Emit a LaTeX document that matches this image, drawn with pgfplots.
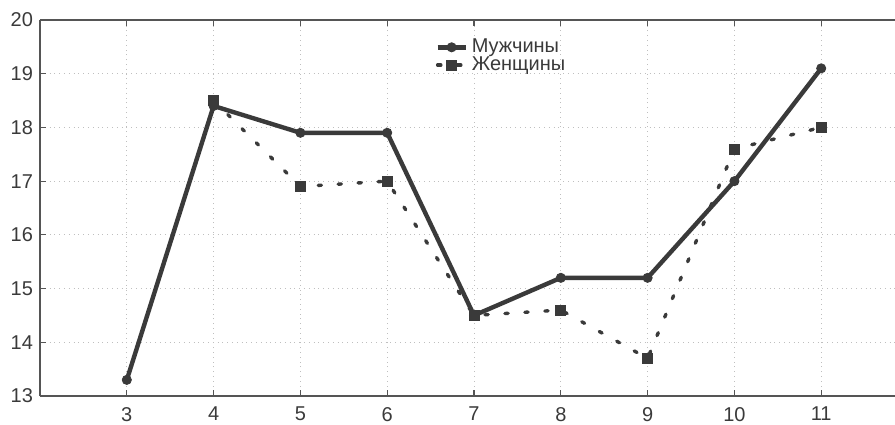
\documentclass[border=0pt]{standalone}
\usepackage{fontspec}
\setmainfont{Liberation Sans}
\usepackage{pgfplots}
\pgfplotsset{compat=1.18}
\definecolor{ink}{HTML}{3A3A3A}
\definecolor{frame}{HTML}{555555}

\begin{document}
\begin{tikzpicture}
  \begin{axis}[
    scale only axis,
    width=427.5pt, height=188pt,
    at={(0,0)}, anchor=south west,
    xmin=2, xmax=11.85,
    ymin=13, ymax=20,
    axis x line=box,
    axis y line*=left,
    axis line style={frame, line width=0.8pt},
    xtick={3,...,11},
    ytick={13,...,20},
    tick align=inside,
    tick style={frame, line width=0.6pt},
    major tick length=3pt,
    grid=major,
    major grid style={gray!50, dotted, line width=0.5pt},
    tick label style={font=\fontsize{10}{12}\selectfont, text=ink},
    xticklabel style={yshift=-2pt},
    /pgf/number format/assume math mode=true,
    legend style={at={(0.455,0.972)}, anchor=north west, draw=none, fill=none,
      font=\fontsize{10}{12}\selectfont, row sep=-3.5pt,
      text=ink},
    legend cell align=left,
    legend image code/.code={
      \draw[mark repeat=2, mark phase=2] plot coordinates {(0pt,0pt) (7pt,0pt) (14pt,0pt)};
    },
    ]
    \addplot[ink, line width=2.2pt, mark=*, mark size=2.3pt,
      mark options={solid, fill=ink, line width=0.4pt}]
      coordinates {(3,13.3) (4,18.4) (5,17.9) (6,17.9) (7,14.5) (8,15.2) (9,15.2) (10,17.0) (11,19.1)};
    \addplot[ink, line width=1.7pt, line cap=round, dash pattern=on 1.6pt off 8.4pt, mark=square*, mark size=2.5pt,
      mark options={solid, fill=ink, line width=0.4pt}]
      coordinates {(4,18.5) (5,16.9) (6,17.0) (7,14.5) (8,14.6) (9,13.7) (10,17.6) (11,18.0)};
    \legend{Мужчины, Женщины}
  \end{axis}
  \pgfresetboundingbox
  \useasboundingbox (-20pt,-14pt) rectangle (427.5pt,198pt);
\end{tikzpicture}
\end{document}
